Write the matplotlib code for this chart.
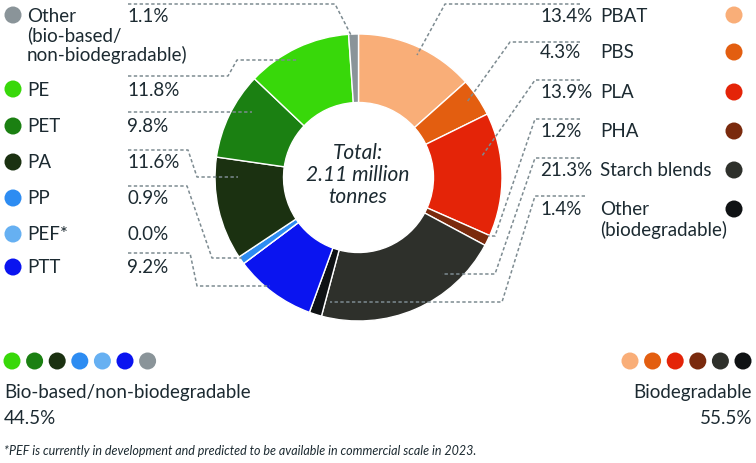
import matplotlib
matplotlib.use("Agg")
import matplotlib.pyplot as plt

# ---------------- data ----------------
bio_names = ["PBAT", "PBS", "PLA", "PHA", "Starch blends", "Other\n(biodegradable)"]
bio_values = [13.4, 4.3, 13.9, 1.2, 21.3, 1.4]
bio_colors = ["#F9AE78", "#E35E10", "#E42408", "#7A2A0D", "#2E302B", "#0F1214"]

nb_names = ["Other\n(bio-based/\nnon-biodegradable)", "PE", "PET", "PA", "PP", "PEF*", "PTT"]
nb_values = [1.1, 11.8, 9.8, 11.6, 0.9, 0.0, 9.2]
nb_colors = ["#8A9499", "#38D80A", "#1B8012", "#1B3111", "#2D8CF2", "#66B0F2", "#0A14F0"]

bio_label = "Biodegradable"
nb_label = "Bio-based/non-biodegradable"
bio_total = "55.5%"
nb_total = "44.5%"
center_text = "Total:\n2.11 million\ntonnes"
footnote = "*PEF is currently in development and predicted to be available in commercial scale in 2023."

TXT = "#1C2A31"
LINE = "#7D8B91"
FONT = "Lato"

plt.rcParams['font.family'] = [FONT, 'DejaVu Sans']

fig = plt.figure(figsize=(7.56, 4.64), dpi=100)
ax = fig.add_axes([0, 0, 1, 1])

# pie order clockwise from top: biodegradable, then non-biodegradable reversed
pie_vals = bio_values + nb_values[::-1]
pie_cols = bio_colors + nb_colors[::-1]
CX, CY, R, W = 358.5, 178.5, 143.5, 68.5
ax.pie(pie_vals, colors=pie_cols, startangle=270, counterclock=True,
       center=(CX, CY), radius=R, frame=True,
       wedgeprops=dict(width=W, edgecolor="white", linewidth=1.0))
ax.set_xlim(0, 756)
ax.set_ylim(464, 0)
ax.axis("off")

# center text
ax.text(CX - 1, 175, center_text, ha="center", va="center", fontsize=15,
        style="italic", color=TXT, linespacing=1.12)

fs = 13.5
LINE_H = 19.5


def multiline(x, y, text, **kw):
    for k, part in enumerate(text.split("\n")):
        ax.text(x, y + k * LINE_H, part, va="center", fontsize=fs, color=TXT, **kw)


# ---------------- left legend ----------------
left_rows_y = [16, 90, 127, 163, 199, 235, 268]
for name, val, col, y in zip(nb_names, nb_values, nb_colors, left_rows_y):
    ax.scatter([13], [y], s=150, color=col, edgecolors="none", zorder=5)
    multiline(27, y, name, ha="left")
    ax.text(127, y, f"{val:.1f}%", ha="left", va="center", fontsize=fs, color=TXT)

# ---------------- right legend ----------------
right_rows_y = [16, 53, 93, 132, 171, 210]
for name, val, col, y in zip(bio_names, bio_values, bio_colors, right_rows_y):
    ax.scatter([734], [y], s=150, color=col, edgecolors="none", zorder=5)
    multiline(600, y, name, ha="left")
    ax.text(540, y, f"{val:.1f}%", ha="left", va="center", fontsize=fs, color=TXT)

# ---------------- leader lines (pixel layout) ----------------
leaders = [
    [(128, 5), (335, 5), (352, 38)],                       # Other bio-based
    [(128, 77), (228, 77), (237, 61), (298, 61)],           # PE
    [(128, 113), (252, 113)],                               # PET
    [(128, 151), (188, 151), (197, 178), (238, 178)],       # PA
    [(128, 187), (187, 187), (212, 259), (242, 259)],       # PP
    [(128, 254), (190, 254), (197, 287), (270, 287)],       # PTT
    [(580, 5), (445, 5), (417, 56)],                        # PBAT
    [(580, 43), (510, 43), (467, 103)],                     # PBS
    [(580, 81), (535, 81), (482, 157)],                     # PLA
    [(580, 120), (535, 120), (495, 237), (488, 237)],       # PHA
    [(580, 159), (535, 159), (495, 275), (442, 275)],       # Starch
    [(585, 197), (535, 197), (502, 303), (330, 303)],       # Other biodeg
]
for pts in leaders:
    xs, ys = zip(*pts)
    ax.plot(xs, ys, color=LINE, lw=1.1, linestyle=(0, (2.2, 1.6)), zorder=4)

# ---------------- bottom groups ----------------
for i, col in enumerate(nb_colors[1:] + nb_colors[:1]):
    ax.scatter([12 + i * 22.6], [362], s=150, color=col, edgecolors="none")
for i, col in enumerate(bio_colors):
    ax.scatter([630 + i * 22.6], [362], s=150, color=col, edgecolors="none")

bfs = 13.5
ax.text(4, 398, nb_label, ha="left", va="baseline", fontsize=bfs, color=TXT)
ax.text(4, 424, nb_total, ha="left", va="baseline", fontsize=bfs, color=TXT)
ax.text(752, 398, bio_label, ha="right", va="baseline", fontsize=bfs, color=TXT)
ax.text(752, 424, bio_total, ha="right", va="baseline", fontsize=bfs, color=TXT)

ax.text(4, 451, footnote, ha="left", va="center", fontsize=9, style="italic", color=TXT)

fig.savefig("out.png", dpi=100)
